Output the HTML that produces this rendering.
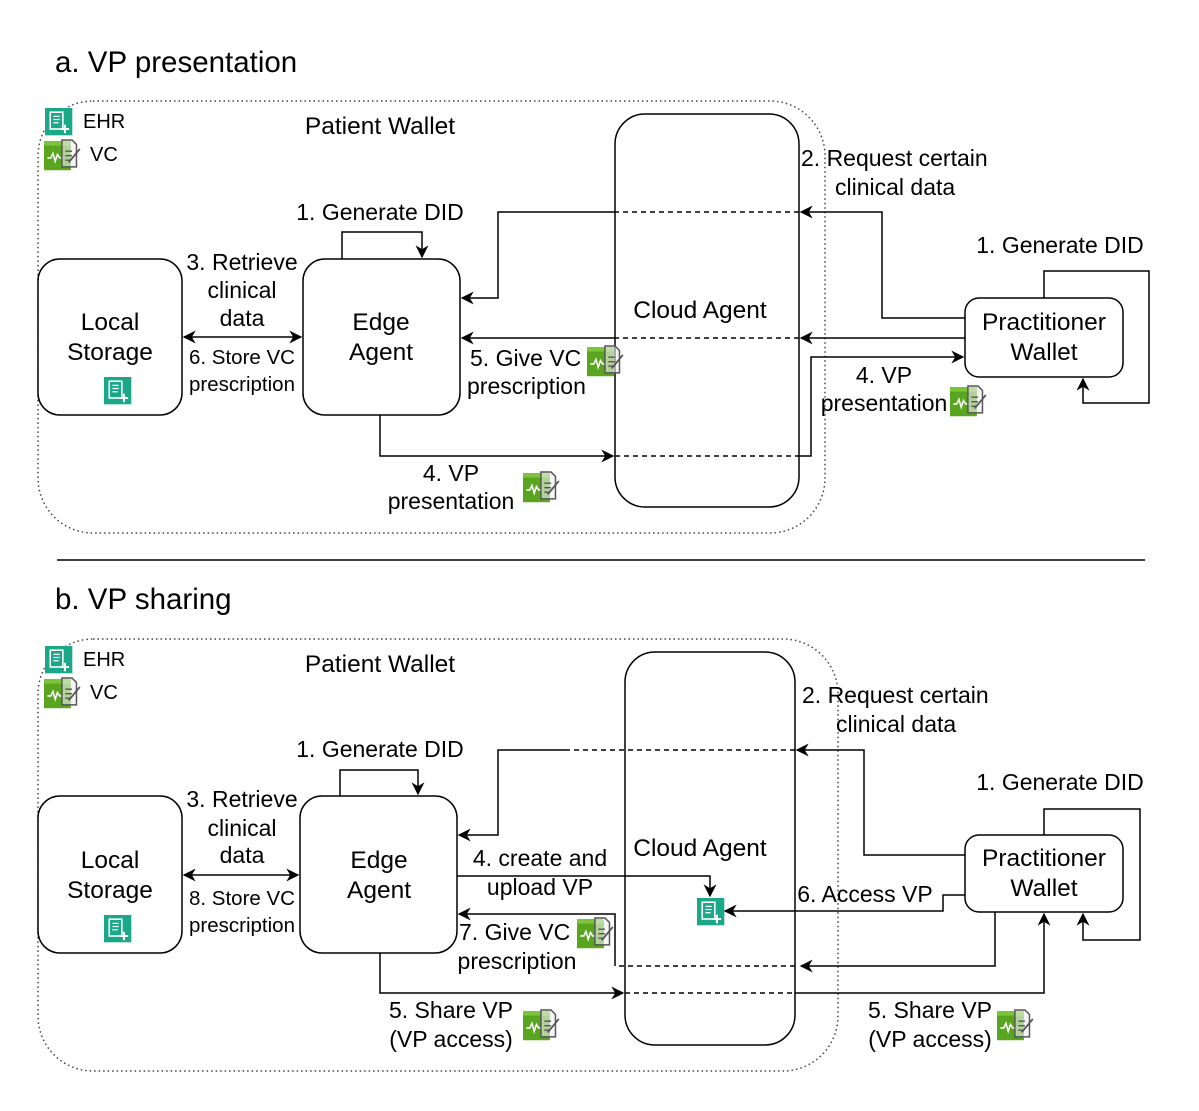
<!DOCTYPE html>
<html><head><meta charset="utf-8"><style>
html,body{margin:0;padding:0;background:#fff}
svg text{font-family:"Liberation Sans",Arial,sans-serif;fill:#000}
</style></head><body>
<svg width="1199" height="1106" viewBox="0 0 1199 1106" xmlns="http://www.w3.org/2000/svg">
<defs>
<marker id="ah" viewBox="0 0 10 10" refX="9" refY="5" markerWidth="13" markerHeight="13" markerUnits="userSpaceOnUse" orient="auto">
<path d="M0,0 L10,5 L0,10 L3,5 z" fill="#000"/></marker>
<marker id="ahs" viewBox="0 0 10 10" refX="9" refY="5" markerWidth="13" markerHeight="13" markerUnits="userSpaceOnUse" orient="auto-start-reverse">
<path d="M0,0 L10,5 L0,10 L3,5 z" fill="#000"/></marker>
<g id="ehr0">
<rect x="0" y="0" width="26" height="26" fill="#1aa889"/>
<rect x="5" y="4" width="12" height="16" fill="none" stroke="#fff" stroke-width="1.5"/>
<path d="M8,8h6M8,11h6M8,14h5" stroke="#fff" stroke-width="1.2"/>
<path d="M19,16v8M15,20h8" stroke="#fff" stroke-width="2"/>
</g>
<g id="ehr"><use href="#ehr0" transform="scale(1.05)"/></g>
<g id="vc0">
<rect x="0" y="1" width="24" height="26" fill="#5aa51f"/>
<rect x="0" y="1" width="24" height="4" fill="#7cc43a"/>
<path d="M3,16 l3,0 l2,-4 l2,7 l2,-6 l2,3 l3,0" stroke="#fff" stroke-width="1.4" fill="none"/>
<path d="M16,0 h9 l4,4 v20 h-13 z" fill="#eee" fill-opacity="0.6" stroke="#555" stroke-width="1.3"/>
<path d="M19,10h6M19,14h6M19,18h5" stroke="#555" stroke-width="1.2"/>
<path d="M22,20 l10,-12" stroke="#555" stroke-width="1.6"/>
</g>
<g id="vc"><use href="#vc0" transform="scale(1.12)"/></g>
</defs>

<!-- PART A -->
<text x="55" y="72" font-size="29.5">a. VP presentation</text>
<rect x="38" y="101" width="787" height="432" rx="55" fill="none" stroke="#444" stroke-width="1.5" stroke-dasharray="1.5,3"/>
<use href="#ehr" x="45" y="108"/><text x="83" y="128" font-size="20">EHR</text>
<use href="#vc" x="44" y="140"/><text x="90" y="161" font-size="20">VC</text>
<text x="380" y="134" font-size="24.5" text-anchor="middle">Patient Wallet</text>

<rect x="38" y="259" width="144" height="156" rx="22" fill="#fff" stroke="#000" stroke-width="1.5"/>
<text x="110" y="330" font-size="24.5" text-anchor="middle">Local</text>
<text x="110" y="360" font-size="24.5" text-anchor="middle">Storage</text>
<use href="#ehr" x="104" y="377"/>

<rect x="303" y="259" width="157" height="156" rx="22" fill="#fff" stroke="#000" stroke-width="1.5"/>
<text x="381" y="330" font-size="24.5" text-anchor="middle">Edge</text>
<text x="381" y="360" font-size="24.5" text-anchor="middle">Agent</text>

<rect x="615" y="114" width="184" height="393" rx="30" fill="none" stroke="#000" stroke-width="1.5"/>
<text x="700" y="318" font-size="24.5" text-anchor="middle">Cloud Agent</text>

<rect x="965" y="298" width="158" height="79" rx="14" fill="#fff" stroke="#000" stroke-width="1.5"/>
<text x="1044" y="330" font-size="24.5" text-anchor="middle">Practitioner</text>
<text x="1044" y="360" font-size="24.5" text-anchor="middle">Wallet</text>

<g fill="none" stroke="#000" stroke-width="1.5">
<path d="M342,259 V232 H422 V257" marker-end="url(#ah)"/>
<path d="M1044,298 V271 H1149 V403 H1083 V379" marker-end="url(#ah)"/>
<path d="M965,318 H882 V212 H801" marker-end="url(#ah)"/>
<path d="M799,212 H615" stroke-dasharray="5,4"/>
<path d="M615,212 H498 V298 H462" marker-end="url(#ah)"/>
<path d="M965,338 H801" marker-end="url(#ah)"/>
<path d="M799,338 H615" stroke-dasharray="5,4"/>
<path d="M615,338 H462" marker-end="url(#ah)"/>
<path d="M184,337 H301" marker-start="url(#ahs)" marker-end="url(#ah)"/>
<path d="M380,415 V456 H613" marker-end="url(#ah)"/>
<path d="M615,456 H797" stroke-dasharray="5,4"/>
<path d="M797,456 H811 V357 H963" marker-end="url(#ah)"/>
</g>
<text x="380" y="220" font-size="23" text-anchor="middle">1. Generate DID</text>
<text x="1060" y="253" font-size="23" text-anchor="middle">1. Generate DID</text>
<text x="801" y="166" font-size="23">2. Request certain</text>
<text x="835" y="195" font-size="23">clinical data</text>
<text x="242" y="270" font-size="23" text-anchor="middle">3. Retrieve</text>
<text x="242" y="298" font-size="23" text-anchor="middle">clinical</text>
<text x="242" y="326" font-size="23" text-anchor="middle">data</text>
<text x="242" y="364" font-size="20.5" text-anchor="middle">6. Store VC</text>
<text x="242" y="391" font-size="20.5" text-anchor="middle">prescription</text>
<text x="470" y="366" font-size="23">5. Give VC</text>
<use href="#vc" x="587" y="346"/>
<text x="467" y="394" font-size="23">prescription</text>
<text x="884" y="383" font-size="23" text-anchor="middle">4. VP</text>
<text x="884" y="411" font-size="23" text-anchor="middle">presentation</text>
<use href="#vc" x="950" y="386"/>
<text x="451" y="481" font-size="23" text-anchor="middle">4. VP</text>
<text x="451" y="509" font-size="23" text-anchor="middle">presentation</text>
<use href="#vc" x="523" y="472"/>

<line x1="57" y1="560" x2="1145" y2="560" stroke="#000" stroke-width="1.5"/>

<!-- PART B -->
<text x="55" y="609" font-size="29.5">b. VP sharing</text>
<rect x="38" y="639" width="800" height="432" rx="55" fill="none" stroke="#444" stroke-width="1.5" stroke-dasharray="1.5,3"/>
<use href="#ehr" x="45" y="646"/><text x="83" y="666" font-size="20">EHR</text>
<use href="#vc" x="44" y="678"/><text x="90" y="699" font-size="20">VC</text>
<text x="380" y="672" font-size="24.5" text-anchor="middle">Patient Wallet</text>

<rect x="38" y="796" width="144" height="157" rx="22" fill="#fff" stroke="#000" stroke-width="1.5"/>
<text x="110" y="868" font-size="24.5" text-anchor="middle">Local</text>
<text x="110" y="898" font-size="24.5" text-anchor="middle">Storage</text>
<use href="#ehr" x="104" y="915"/>

<rect x="300" y="796" width="157" height="157" rx="22" fill="#fff" stroke="#000" stroke-width="1.5"/>
<text x="379" y="868" font-size="24.5" text-anchor="middle">Edge</text>
<text x="379" y="898" font-size="24.5" text-anchor="middle">Agent</text>

<rect x="625" y="652" width="170" height="393" rx="30" fill="none" stroke="#000" stroke-width="1.5"/>
<text x="700" y="856" font-size="24.5" text-anchor="middle">Cloud Agent</text>

<rect x="965" y="835" width="158" height="77" rx="14" fill="#fff" stroke="#000" stroke-width="1.5"/>
<text x="1044" y="866" font-size="24.5" text-anchor="middle">Practitioner</text>
<text x="1044" y="896" font-size="24.5" text-anchor="middle">Wallet</text>

<use href="#ehr" x="697" y="898"/>

<g fill="none" stroke="#000" stroke-width="1.5">
<path d="M340,796 V770 H418 V794" marker-end="url(#ah)"/>
<path d="M1044,835 V809 H1140 V940 H1083 V914" marker-end="url(#ah)"/>
<path d="M965,855 H864 V750 H797" marker-end="url(#ah)"/>
<path d="M795,750 H565" stroke-dasharray="5,4"/>
<path d="M565,750 H498 V835 H459" marker-end="url(#ah)"/>
<path d="M184,875 H298" marker-start="url(#ahs)" marker-end="url(#ah)"/>
<path d="M457,876 H710 V896" marker-end="url(#ah)"/>
<path d="M965,895 H943 V911 H725" marker-end="url(#ah)"/>
<path d="M995,912 V966 H801" marker-end="url(#ah)"/>
<path d="M795,966 H615" stroke-dasharray="5,4"/>
<path d="M615,966 V914 H459" marker-end="url(#ah)"/>
<path d="M380,953 V993 H623" marker-end="url(#ah)"/>
<path d="M625,993 H795" stroke-dasharray="5,4"/>
<path d="M795,993 H1044 V914" marker-end="url(#ah)"/>
</g>
<text x="380" y="757" font-size="23" text-anchor="middle">1. Generate DID</text>
<text x="1060" y="790" font-size="23" text-anchor="middle">1. Generate DID</text>
<text x="802" y="703" font-size="23">2. Request certain</text>
<text x="836" y="732" font-size="23">clinical data</text>
<text x="242" y="807" font-size="23" text-anchor="middle">3. Retrieve</text>
<text x="242" y="836" font-size="23" text-anchor="middle">clinical</text>
<text x="242" y="863" font-size="23" text-anchor="middle">data</text>
<text x="242" y="905" font-size="20.5" text-anchor="middle">8. Store VC</text>
<text x="242" y="932" font-size="20.5" text-anchor="middle">prescription</text>
<text x="540" y="866" font-size="23" text-anchor="middle">4. create and</text>
<text x="540" y="895" font-size="23" text-anchor="middle">upload VP</text>
<text x="865" y="902" font-size="23" text-anchor="middle">6. Access VP</text>
<text x="459" y="940" font-size="23">7. Give VC</text>
<use href="#vc" x="577" y="918"/>
<text x="517" y="969" font-size="23" text-anchor="middle">prescription</text>
<text x="451" y="1018" font-size="23" text-anchor="middle">5. Share VP</text>
<text x="451" y="1047" font-size="23" text-anchor="middle">(VP access)</text>
<use href="#vc" x="523" y="1010"/>
<text x="930" y="1018" font-size="23" text-anchor="middle">5. Share VP</text>
<text x="930" y="1047" font-size="23" text-anchor="middle">(VP access)</text>
<use href="#vc" x="997" y="1010"/>
</svg>
</body></html>
